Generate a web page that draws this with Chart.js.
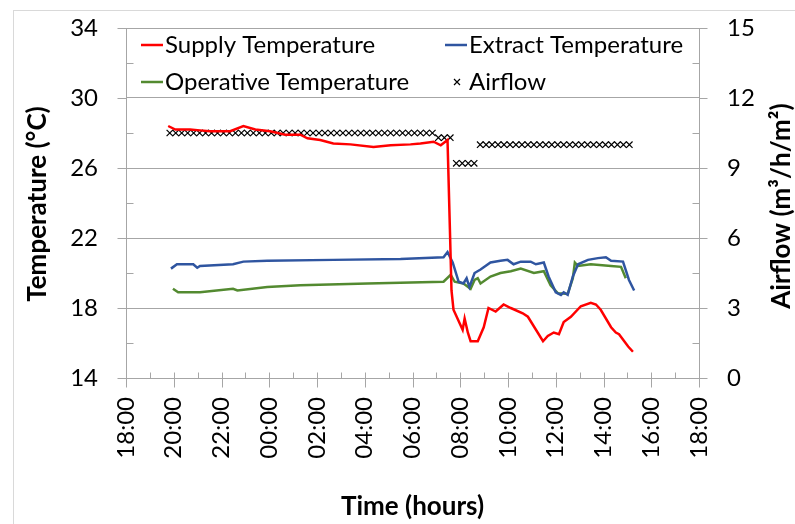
<!DOCTYPE html>
<html>
<head>
<meta charset="utf-8">
<script src="https://cdn.jsdelivr.net/npm/chart.js@4.4.1/dist/chart.umd.min.js"></script>
<style>
  body { margin: 0; background: #fff; }
</style>
</head>
<body>
<canvas id="c" width="795" height="524"></canvas>
<script>
// x axis runs from 18:00 to 18:00 next day, ticks every 2 hours
var timeLabels = ['18:00', '20:00', '22:00', '00:00', '02:00', '04:00', '06:00',
                  '08:00', '10:00', '12:00', '14:00', '16:00', '18:00'];

var supplyTimes = ['19:46', '20:04', '20:41', '21:06', '21:31', '22:22', '22:55', '23:25', '00:02', '00:40',
                   '01:18', '01:36', '02:08', '02:41', '03:24', '04:22', '05:05', '05:55', '06:20', '06:53',
                   '07:11', '07:28', '07:34', '07:38', '07:43', '08:06', '08:11', '08:19', '08:26', '08:44',
                   '08:59', '09:11', '09:29', '09:49', '10:07', '10:37', '10:50', '11:28', '11:40', '11:55',
                   '12:08', '12:20', '12:38', '13:03', '13:28', '13:41', '13:53', '14:19', '14:31', '14:39',
                   '15:02', '15:14'];
var supplyTemp = [28.4, 28.2, 28.2, 28.15, 28.1, 28.1, 28.4, 28.2, 28.1, 27.9,
                  27.9, 27.7, 27.6, 27.4, 27.35, 27.2, 27.3, 27.35, 27.4, 27.5,
                  27.3, 27.6, 22.5, 19.0, 17.9, 16.75, 17.4, 16.6, 16.1, 16.1,
                  16.9, 18.0, 17.8, 18.2, 18.0, 17.7, 17.5, 16.1, 16.4, 16.6,
                  16.5, 17.2, 17.5, 18.1, 18.3, 18.2, 17.9, 16.9, 16.6, 16.5,
                  15.8, 15.5];

var extractTimes = ['19:53', '20:08', '20:49', '20:59', '21:06', '22:29', '22:55', '23:55', '02:41', '05:30',
                    '07:18', '07:28', '07:41', '07:56', '08:08', '08:16', '08:23', '08:36', '08:51', '09:16',
                    '09:41', '09:59', '10:14', '10:32', '10:57', '11:10', '11:30', '11:42', '12:00', '12:13',
                    '12:20', '12:30', '12:43', '12:56', '13:21', '13:46', '14:06', '14:19', '14:49', '15:04',
                    '15:17'];
var extractTemp = [20.25, 20.5, 20.5, 20.3, 20.4, 20.5, 20.65, 20.7, 20.75, 20.8,
                   20.9, 21.2, 20.6, 19.5, 19.4, 19.7, 19.2, 20.0, 20.2, 20.6,
                   20.7, 20.75, 20.5, 20.65, 20.65, 20.5, 20.6, 19.8, 18.9, 18.75,
                   18.9, 18.75, 19.8, 20.5, 20.75, 20.85, 20.9, 20.7, 20.65, 19.6,
                   19.0];

var operativeTimes = ['19:58', '20:11', '21:06', '22:29', '22:40', '23:55', '01:18', '04:07', '07:18', '07:36',
                      '07:46', '08:08', '08:26', '08:36', '08:44', '08:51', '09:16', '09:41', '10:07', '10:32',
                      '11:05', '11:30', '11:47', '12:05', '12:30', '12:43', '12:48', '12:56', '13:28', '14:19',
                      '14:44', '14:56'];
var operativeTemp = [19.1, 18.9, 18.9, 19.1, 19.0, 19.2, 19.3, 19.4, 19.5, 19.9,
                     19.5, 19.4, 19.1, 19.6, 19.7, 19.4, 19.8, 20.0, 20.1, 20.25,
                     20.0, 20.1, 19.3, 18.85, 18.8, 19.7, 20.6, 20.4, 20.5, 20.4,
                     20.35, 19.7];

var airflowTimes = ['19:50', '20:05', '20:20', '20:35', '20:50', '21:05', '21:20', '21:35', '21:50',
                    '22:05', '22:20', '22:35', '22:50', '23:05', '23:20', '23:35', '23:50',
                    '00:05', '00:20', '00:35', '00:50', '01:05', '01:20', '01:35', '01:50',
                    '02:05', '02:20', '02:35', '02:50', '03:05', '03:20', '03:35', '03:50',
                    '04:05', '04:20', '04:35', '04:50', '05:05', '05:20', '05:35', '05:50',
                    '06:05', '06:20', '06:35', '06:50',
                    '07:05', '07:20', '07:35',
                    '07:50', '08:05', '08:20', '08:35',
                    '08:50', '09:05', '09:20', '09:35', '09:50', '10:05', '10:20', '10:35', '10:50',
                    '11:05', '11:20', '11:35', '11:50', '12:05', '12:20', '12:35', '12:50',
                    '13:05', '13:20', '13:35', '13:50', '14:05', '14:20', '14:35', '14:50', '15:05'];
var airflowValues = [10.5, 10.5, 10.5, 10.5, 10.5, 10.5, 10.5, 10.5, 10.5,
                     10.5, 10.5, 10.5, 10.5, 10.5, 10.5, 10.5, 10.5,
                     10.5, 10.5, 10.5, 10.5, 10.5, 10.5, 10.5, 10.5,
                     10.5, 10.5, 10.5, 10.5, 10.5, 10.5, 10.5, 10.5,
                     10.5, 10.5, 10.5, 10.5, 10.5, 10.5, 10.5, 10.5,
                     10.5, 10.5, 10.5, 10.5,
                     10.3, 10.3, 10.3,
                     9.2, 9.2, 9.2, 9.2,
                     10.0, 10.0, 10.0, 10.0, 10.0, 10.0, 10.0, 10.0, 10.0,
                     10.0, 10.0, 10.0, 10.0, 10.0, 10.0, 10.0, 10.0,
                     10.0, 10.0, 10.0, 10.0, 10.0, 10.0, 10.0, 10.0, 10.0];

// "HH:MM" -> hours after 18:00
function toHours(t) {
  var p = t.split(':');
  var h = +p[0] + p[1] / 60 - 18;
  if (h < 0) h += 24;
  return h;
}
function points(times, values) {
  return times.map(function (t, i) { return { x: toHours(t), y: values[i] }; });
}

var FONT = 'Lato, "Open Sans", sans-serif';
var grey = '#a6a6a6';

// tick marks (Excel style: major cross/outside, minor inside), titles, legend, outer frame
var excelBits = {
  id: 'excelBits',
  beforeDraw: function (chart) {
    var ctx = chart.ctx;
    ctx.save();
    ctx.fillStyle = '#fff';
    ctx.fillRect(0, 0, chart.width, chart.height);
    ctx.strokeStyle = '#d9d9d9';
    ctx.lineWidth = 1;
    ctx.strokeRect(13.5, 10.5, 900, 600);
    ctx.restore();
  },
  beforeDatasetsDraw: function (chart) {
    var ctx = chart.ctx, a = chart.chartArea;
    var x = chart.scales.x, y = chart.scales.y, y1 = chart.scales.y1;
    ctx.save();
    ctx.strokeStyle = grey;
    ctx.lineWidth = 1;
    ctx.beginPath();
    var h, px, py, b = Math.round(a.bottom) + 0.5;
    for (h = 0; h <= 24; h++) {
      px = Math.round(x.getPixelForValue(h)) + 0.5;
      ctx.moveTo(px, b - 6);
      ctx.lineTo(px, h % 2 === 0 ? b + 9 : b);
    }
    var l = Math.round(a.left) + 0.5;
    for (var t = 14; t <= 34; t += 2) {
      py = Math.round(y.getPixelForValue(t)) + 0.5;
      if ((t - 14) % 4 === 0) { ctx.moveTo(l - 9, py); ctx.lineTo(l, py); }
      else { ctx.moveTo(l, py); ctx.lineTo(l + 7, py); }
    }
    var r = Math.round(a.right) + 0.5;
    for (var v = 0; v <= 15; v += 1.5) {
      py = Math.round(y1.getPixelForValue(v)) + 0.5;
      if (v % 3 === 0) { ctx.moveTo(r, py); ctx.lineTo(r + 8, py); }
      else { ctx.moveTo(r - 7, py); ctx.lineTo(r, py); }
    }
    ctx.stroke();
    ctx.restore();
  },
  afterDraw: function (chart) {
    var ctx = chart.ctx, a = chart.chartArea;
    ctx.save();
    ctx.fillStyle = '#000';
    ctx.textAlign = 'center';
    ctx.textBaseline = 'middle';
    ctx.font = 'bold 26px ' + FONT;
    ctx.fillText('Time (hours)', (a.left + a.right) / 2, 507);
    ctx.save();
    ctx.translate(38, 204);
    ctx.rotate(-Math.PI / 2);
    ctx.fillText('Temperature (°C)', 0, 0);
    ctx.restore();
    ctx.save();
    ctx.translate(782, 206);
    ctx.rotate(-Math.PI / 2);
    ctx.fillText('Airflow (m³/h/m²)', 0, 0);
    ctx.restore();

    // legend, two rows inside the plot area
    var slots = [[141, 45], [445, 45], [141, 82], [445, 82]];
    ctx.font = '24px ' + FONT;
    ctx.textAlign = 'left';
    chart.data.datasets.forEach(function (ds, i) {
      var sx = slots[i][0], sy = slots[i][1];
      ctx.strokeStyle = ds.borderColor;
      ctx.beginPath();
      if (ds.showLine === false) {
        ctx.lineWidth = 1.2;
        ctx.moveTo(sx + 9, sy - 3); ctx.lineTo(sx + 15, sy + 3);
        ctx.moveTo(sx + 15, sy - 3); ctx.lineTo(sx + 9, sy + 3);
      } else {
        ctx.lineWidth = 2.5;
        ctx.moveTo(sx, sy); ctx.lineTo(sx + 22, sy);
      }
      ctx.stroke();
      ctx.fillText(ds.label, sx + 24, sy);
    });
    ctx.restore();
  }
};

// keep the axis boxes fixed so the plot area sits where the reference has it
function fixWidth(w) {
  return function (s) { s.width = w; s.paddingTop = 0; s.paddingBottom = 0; };
}

var ctx = document.getElementById('c');
var chart = new Chart(ctx, {
  type: 'line',
  data: {
    datasets: [{
      label: 'Supply Temperature',
      data: points(supplyTimes, supplyTemp),
      borderColor: '#ff0000',
      borderWidth: 2.5,
      pointRadius: 0,
      yAxisID: 'y'
    }, {
      label: 'Extract Temperature',
      data: points(extractTimes, extractTemp),
      borderColor: '#2f55a0',
      borderWidth: 2.5,
      pointRadius: 0,
      yAxisID: 'y'
    }, {
      label: 'Operative Temperature',
      data: points(operativeTimes, operativeTemp),
      borderColor: '#538a30',
      borderWidth: 2.5,
      pointRadius: 0,
      yAxisID: 'y'
    }, {
      label: 'Airflow',
      data: points(airflowTimes, airflowValues),
      borderColor: '#000',
      backgroundColor: '#000',
      showLine: false,
      pointStyle: 'crossRot',
      pointRadius: 4.5,
      pointBorderWidth: 1.2,
      yAxisID: 'y1'
    }]
  },
  options: {
    responsive: false,
    animation: false,
    devicePixelRatio: 1,
    layout: { padding: { top: 28, left: 0, right: 0, bottom: 0 } },
    plugins: { legend: { display: false }, tooltip: { enabled: false } },
    elements: { line: { tension: 0 } },
    scales: {
      x: {
        type: 'linear',
        min: 0,
        max: 24,
        afterFit: function (s) { s.height = 146; s.paddingLeft = 0; s.paddingRight = 0; },
        grid: { drawOnChartArea: false, drawTicks: false },
        border: { color: grey },
        ticks: {
          stepSize: 2,
          minRotation: 90,
          maxRotation: 90,
          padding: 19,
          color: '#000',
          font: { family: FONT, size: 24 },
          callback: function (v) { return timeLabels[v / 2]; }
        }
      },
      y: {
        position: 'left',
        min: 14,
        max: 34,
        afterFit: fixWidth(126),
        grid: { color: grey, drawTicks: false },
        border: { color: grey },
        ticks: { stepSize: 4, padding: 28, color: '#000', font: { family: FONT, size: 24 } }
      },
      y1: {
        position: 'right',
        min: 0,
        max: 15,
        afterFit: fixWidth(96),
        grid: { drawOnChartArea: false, drawTicks: false },
        border: { color: grey },
        ticks: { stepSize: 3, padding: 28, color: '#000', font: { family: FONT, size: 24 } }
      }
    }
  },
  plugins: [excelBits]
});
</script>
</body>
</html>
